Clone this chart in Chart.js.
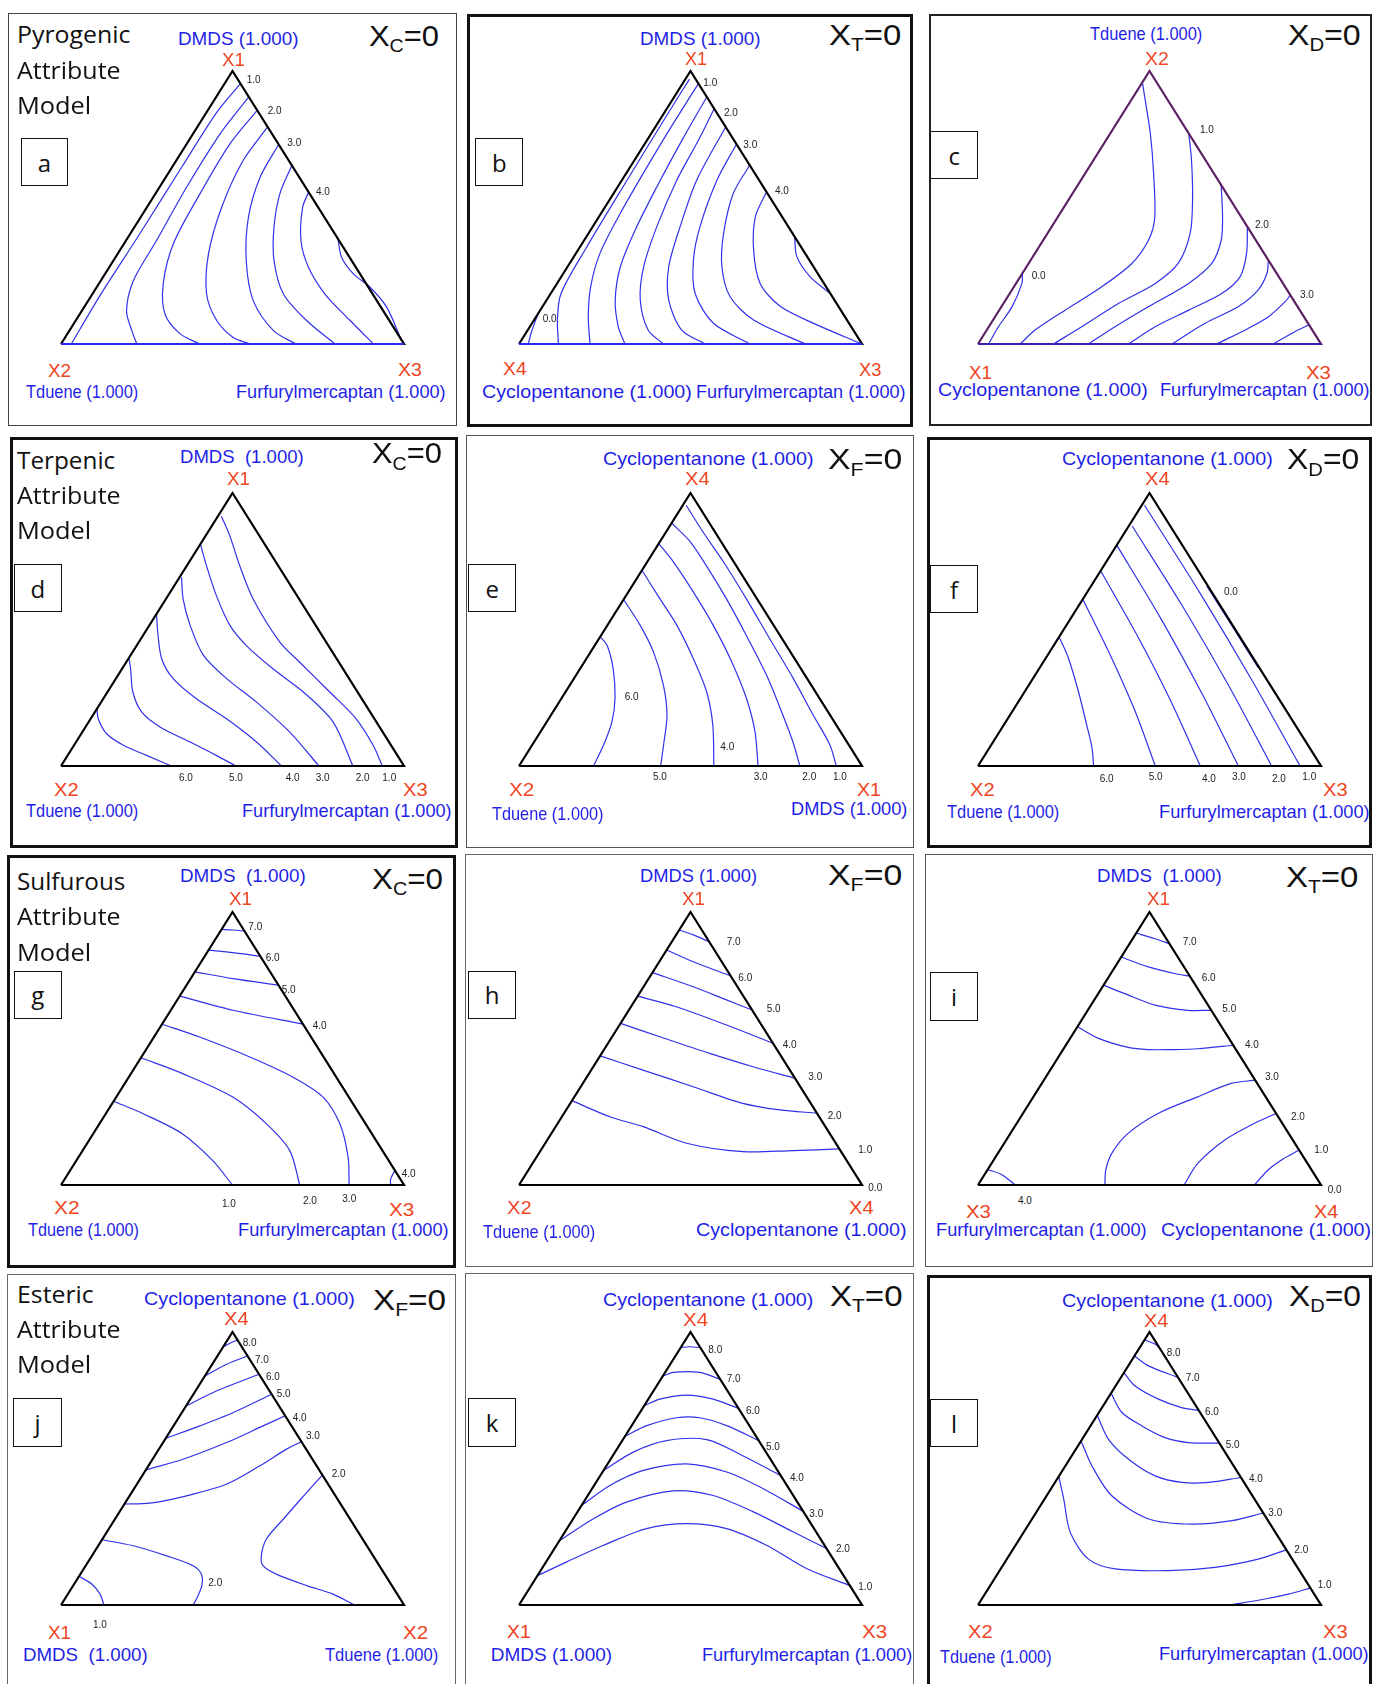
<!DOCTYPE html>
<html>
<head>
<meta charset="utf-8">
<script src="https://cdn.jsdelivr.net/npm/chart.js@4.4.0/dist/chart.umd.min.js"></script>
<style>
  body { margin: 0; background: #fff; }
  #page { position: relative; width: 1374px; height: 1684px; overflow: hidden; background: #fff; }
  .frame { position: absolute; box-sizing: border-box; }
  .box { position: absolute; box-sizing: border-box; border: 1.7px solid #111; display: flex;
         align-items: center; justify-content: center; font: 24px "Open Sans", sans-serif; color: #111; background: #fff; }
  .t { position: absolute; white-space: pre; line-height: 1; transform-origin: 0 0; }
  canvas { position: absolute; }
</style>
</head>
<body>
<div id="page"></div>
<script>
// contour lines, each point = [fraction of apex component, fraction of right-hand component]
const aLevels = [1.0, 1.5, 2.0, 2.5, 3.0, 3.5, 4.0, 4.5];
const aLines = [
  [[.953,.046],[.85,.03],[.65,.028],[.4,.028],[.18,.025],[0,.03]],
  [[.905,.095],[.770,.079],[.575,.079],[.379,.089],[.232,.095],[.122,.130],[.049,.182],[0,.221]],
  [[.856,.144],[.734,.126],[.550,.130],[.367,.144],[.220,.188],[.110,.248],[.037,.329],[0,.405]],
  [[.795,.205],[.672,.195],[.501,.218],[.330,.265],[.183,.333],[.086,.411],[.024,.490],[0,.551]],
  [[.731,.269],[.611,.275],[.465,.314],[.306,.387],[.159,.481],[.049,.595],[0,.685]],
  [[.654,.346],[.550,.363],[.428,.407],[.306,.468],[.183,.557],[.086,.673],[0,.799]],
  [[.556,.444],[.501,.454],[.379,.510],[.281,.581],[.183,.678],[.086,.800],[0,.911]],
  [[.385,.615],[.318,.659],[.257,.724],[.208,.797],[.135,.882],[.012,.987]]
];
const bLevels = [0.0, 0.5, 1.0, 1.5, 2.0, 2.5, 3.0, 3.5, 4.0, 4.5];
const bLines = [
  [[.112,0],[.045,.014],[0,.027]],
  [[.97,.012],[.85,.012],[.6,.015],[.35,.02],[.185,.03],[.088,.068],[0,.115]],
  [[.954,.046],[.807,.046],[.649,.049],[.478,.056],[.332,.070],[.210,.104],[.100,.152],[0,.207]],
  [[.905,.095],[.746,.102],[.576,.114],[.417,.130],[.283,.154],[.161,.200],[.063,.258],[0,.309]],
  [[.862,.138],[.746,.150],[.600,.160],[.429,.187],[.283,.222],[.161,.273],[.051,.351],[0,.421]],
  [[.795,.205],[.600,.218],[.429,.255],[.283,.295],[.161,.356],[.051,.449],[0,.543]],
  [[.732,.268],[.600,.277],[.429,.313],[.307,.355],[.185,.421],[.076,.529],[0,.674]],
  [[.655,.345],[.551,.349],[.405,.394],[.283,.450],[.173,.529],[.088,.640],[0,.835]],
  [[.557,.443],[.466,.456],[.344,.512],[.222,.592],[.137,.694],[.070,.834],[.002,.995]],
  [[.393,.607],[.320,.650],[.246,.726],[.185,.815]]
];
const cLevels = [0.0, 0.5, 1.0, 1.5, 2.0, 2.5, 3.0, 3.5];
const cLines = [
  [[.259,0],[.222,.017],[.137,.031],[.063,.028],[0,.031]],
  [[.954,.003],[.893,.041],[.771,.117],[.624,.200],[.460,.285],[.380,.307],[.295,.301],[.210,.256],[.124,.192],[.051,.141],[0,.123]],
  [[.771,.229],[.673,.286],[.527,.362],[.405,.416],[.295,.436],[.222,.406],[.149,.336],[.063,.271],[0,.220]],
  [[.582,.418],[.466,.480],[.380,.519],[.295,.534],[.222,.503],[.137,.429],[.063,.368],[0,.322]],
  [[.429,.571],[.332,.617],[.246,.641],[.185,.618],[.124,.552],[.063,.485],[0,.439]],
  [[.307,.693],[.259,.713],[.198,.718],[.137,.691],[.076,.624],[0,.565]],
  [[.179,.821],[.155,.818],[.100,.797],[.057,.759],[0,.696]],
  [[.070,.930],[.045,.901],[0,.861]]
];
const dLevels = [6.0, 5.0, 4.0, 3.0, 2.0, 1.0];
const dLines = [
  [[.21,0],[.173,.022],[.118,.074],[.076,.144],[.039,.230],[0,.322]],
  [[.396,0],[.356,.025],[.271,.074],[.198,.136],[.143,.217],[.088,.332],[.039,.433],[0,.510]],
  [[.557,0],[.490,.037],[.393,.097],[.320,.167],[.246,.272],[.173,.396],[.088,.526],[0,.643]],
  [[.691,.006],[.612,.050],[.515,.119],[.405,.213],[.320,.323],[.234,.453],[.124,.605],[0,.752]],
  [[.813,0],[.734,.057],[.624,.141],[.515,.235],[.441,.320],[.356,.440],[.271,.571],[.161,.713],[0,.851]],
  [[.915,.01],[.844,.070],[.734,.154],[.612,.254],[.454,.411],[.380,.506],[.271,.648],[.173,.774],[.076,.872],[0,.937]]
];
const eLevels = [6.0, 5.0, 4.0, 3.0, 2.0, 1.0];
const eLines = [
  [[.473,0],[.443,.035],[.357,.096],[.248,.156],[.162,.190],[.077,.208],[0,.217]],
  [[.610,0],[.516,.095],[.418,.183],[.296,.273],[.187,.338],[.077,.383],[0,.413]],
  [[.717,0],[.613,.104],[.516,.202],[.394,.311],[.272,.411],[.150,.490],[0,.568]],
  [[.815,0],[.748,.076],[.638,.189],[.516,.308],[.382,.429],[.248,.539],[.126,.625],[0,.697]],
  [[.890,0],[.821,.089],[.723,.190],[.613,.298],[.479,.423],[.333,.555],[.199,.666],[.089,.754],[0,.819]],
  [[.955,.01],[.857,.108],[.748,.222],[.613,.356],[.467,.497],[.321,.639],[.187,.764],[.077,.868],[0,.925]]
];
const fLevels = [6.0, 5.0, 4.0, 3.0, 2.0, 1.0, 0.0];
const fLines = [
  [[.473,0],[.394,.067],[.272,.157],[.150,.242],[.065,.300],[0,.337]],
  [[.611,0],[.407,.182],[.204,.355],[0,.517]],
  [[.715,0],[.476,.227],[.238,.443],[0,.648]],
  [[.809,0],[.539,.264],[.270,.516],[0,.759]],
  [[.879,.010],[.586,.303],[.293,.585],[0,.856]],
  [[.955,.008],[.637,.327],[.318,.638],[0,.939]],
  [[.66,.337],[.5,.497],[.36,.637]]
];
const gLevels = [7.0, 6.0, 5.0, 4.0, 3.0, 2.0, 1.0, 4.0];
const gLines = [
  [[.936,0],[.934,.034],[.930,.070]],
  [[.860,0],[.851,.076],[.838,.162]],
  [[.781,0],[.756,.123],[.732,.268]],
  [[.692,0],[.640,.181],[.589,.411]],
  [[.589,0],[.542,.133],[.469,.316],[.395,.479],[.322,.603],[.224,.701],[.102,.786],[0,.840]],
  [[.466,0],[.408,.151],[.322,.340],[.224,.487],[.126,.604],[0,.696]],
  [[.307,0],[.261,.109],[.187,.261],[.089,.398],[0,.500]],
  [[.053,.947],[.022,.950],[0,.961]]
];
const hLevels = [7.0, 6.0, 5.0, 4.0, 3.0, 2.0, 1.0];
const hLines = [
  [[.934,0],[.916,.050],[.891,.109]],
  [[.861,0],[.818,.099],[.766,.234]],
  [[.778,0],[.726,.145],[.678,.266],[.641,.359]],
  [[.692,0],[.653,.132],[.586,.312],[.519,.481]],
  [[.592,0],[.543,.139],[.482,.315],[.433,.466],[.391,.609]],
  [[.473,0],[.421,.151],[.360,.328],[.299,.503],[.275,.623],[.263,.737]],
  [[.309,0],[.250,.140],[.214,.255],[.153,.412],[.122,.592],[.126,.736],[.132,.868]]
];
const iLevels = [7.0, 6.0, 5.0, 4.0, 3.0, 2.0, 1.0, 4.0];
const iLines = [
  [[.923,0],[.902,.065],[.884,.116]],
  [[.835,0],[.799,.097],[.772,.197],[.765,.235]],
  [[.732,0],[.701,.077],[.659,.187],[.640,.292],[.640,.360]],
  [[.579,.002],[.537,.083],[.504,.186],[.496,.248],[.496,.316],[.499,.392],[.512,.488]],
  [[.384,.616],[.372,.552],[.323,.479],[.262,.394],[.189,.343],[.116,.332],[.055,.345],[0,.370]],
  [[.262,.738],[.226,.693],[.165,.637],[.079,.601],[0,.601]],
  [[.128,.872],[.091,.838],[.055,.818],[0,.806]],
  [[.057,0],[.037,.052],[0,.109]]
];
const jLevels = [8.0, 7.0, 6.0, 5.0, 4.0, 3.0, 2.0, 2.0, 1.0];
const jLines = [
  [[.946,0],[.959,.013],[.971,.029]],
  [[.839,0],[.882,.042],[.912,.088]],
  [[.729,0],[.784,.061],[.845,.155]],
  [[.610,0],[.656,.077],[.705,.150],[.772,.228]],
  [[.495,0],[.534,.089],[.595,.185],[.656,.261],[.693,.307]],
  [[.370,0],[.373,.072],[.400,.166],[.443,.262],[.510,.325],[.571,.372],[.598,.402]],
  [[.476,.524],[.412,.510],[.315,.491],[.241,.478],[.180,.494],[.144,.517],[.113,.571],[.071,.681],[.040,.773],[0,.856]],
  [[.239,0],[.217,.102],[.180,.218],[.144,.313],[.113,.353],[.071,.375],[.022,.384],[0,.385]],
  [[.105,0],[.077,.051],[.040,.094],[0,.125]]
];
const kLevels = [8.0, 7.0, 6.0, 5.0, 4.0, 3.0, 2.0, 1.0];
const kLines = [
  [[.943,0],[.946,.025],[.943,.057]],
  [[.839,0],[.852,.024],[.852,.101],[.827,.173]],
  [[.730,0],[.754,.034],[.769,.104],[.754,.189],[.720,.280]],
  [[.618,0],[.657,.044],[.686,.116],[.686,.184],[.657,.277],[.602,.398]],
  [[.493,0],[.560,.053],[.602,.129],[.606,.244],[.547,.379],[.474,.526]],
  [[.365,0],[.438,.046],[.493,.116],[.517,.229],[.487,.362],[.426,.499],[.343,.657]],
  [[.235,0],[.316,.059],[.377,.125],[.418,.241],[.401,.365],[.341,.513],[.268,.665],[.207,.793]],
  [[.107,0],[.158,.060],[.219,.137],[.280,.232],[.298,.339],[.280,.465],[.219,.612],[.134,.771],[.071,.929]]
];
const lLevels = [8.0, 7.0, 6.0, 5.0, 4.0, 3.0, 2.0, 1.0];
const lLines = [
  [[.971,0],[.955,.040],[.939,.061]],
  [[.912,0],[.876,.059],[.833,.167]],
  [[.851,0],[.802,.057],[.754,.149],[.723,.232],[.713,.287]],
  [[.776,0],[.705,.067],[.656,.150],[.613,.239],[.595,.316],[.593,.407]],
  [[.695,0],[.607,.077],[.534,.172],[.473,.280],[.449,.370],[.449,.448],[.467,.533]],
  [[.601,0],[.510,.077],[.400,.190],[.315,.340],[.296,.475],[.309,.586],[.337,.663]],
  [[.471,0],[.388,.056],[.266,.136],[.168,.238],[.132,.334],[.126,.492],[.138,.622],[.168,.733],[.202,.798]],
  [[0,.735],[.022,.826],[.040,.885],[.062,.938]]
];

// layout
const TW = 343, TH = 273, M = 8;
const colX = [61, 519, 978];
const rowBase = [344, 766, 1185, 1605];
const SANS = '"Liberation Sans", Arial, sans-serif';
const KIND = {
  name:  { family: SANS, size: 19, color: '#1f1fe6', asc: 0.8465 },
  vtx:   { family: SANS, size: 18.5, color: '#ee4422', asc: 0.8465 },
  lvl:   { family: SANS, size: 10, color: '#222', asc: 0.8465 },
  big:   { family: SANS, size: 30, color: '#111', asc: 0.8465 },
  title: { family: '"Open Sans", sans-serif', size: 24, color: '#111', asc: 0.888 }
};

const panels = [
  { col: 0, row: 0, levels: aLevels, lines: aLines, edge: '#000', base: '#2a2af0',
    frame: [8, 13, 457, 426, 1.5, '#444'], letter: ['a', 20.7, 138.3, 68.3, 186], sub: ['C', 369.3, 439.3, 44],
    title: [['Pyrogenic', 16.7, 130.7, 38.3], ['Attribute', 16.7, 120.7, 74], ['Model', 16.7, 90.7, 109]],
    texts: [['DMDS (1.000)', 177.7, 297.7, 44, 'name'], ['X1', 221.7, 245, 65, 'vtx'], ['X2', 48.3, 71.7, 376, 'vtx'],
            ['Tduene (1.000)', 26, 138.3, 397.3, 'name'], ['X3', 398.3, 422.7, 375, 'vtx'],
            ['Furfurylmercaptan (1.000)', 235.7, 445.7, 397.3, 'name']],
    tags: [['1.0', 246.7, 79.3, 'l'], ['2.0', 267.7, 110, 'l'], ['3.0', 287.3, 141.7, 'l'], ['4.0', 316, 190.7, 'l']] },
  { col: 1, row: 0, levels: bLevels, lines: bLines, edge: '#000', base: '#2a2af0',
    frame: [467, 14, 913, 427, 3, '#111'], letter: ['b', 475.3, 138.3, 523.3, 186], sub: ['T', 829.3, 901.7, 43.3],
    texts: [['DMDS (1.000)', 640, 760, 44, 'name'], ['X1', 685, 707.3, 63.3, 'vtx'], ['X4', 502.7, 526.7, 374, 'vtx'],
            ['Cyclopentanone (1.000)', 481.7, 691.7, 396.7, 'name'], ['X3', 859.3, 882, 375, 'vtx'],
            ['Furfurylmercaptan (1.000)', 696, 906, 396.7, 'name']],
    tags: [['1.0', 703.3, 81.7, 'l'], ['2.0', 724, 112.3, 'l'], ['3.0', 743.3, 144, 'l'], ['4.0', 775, 190, 'l'], ['0.0', 542.7, 318.3, 'l']] },
  { col: 2, row: 0, levels: cLevels, lines: cLines, edge: '#5b1f63', base: '#3a22b8',
    frame: [929, 14, 1372, 426, 2.5, '#222'], letter: ['c', 930, 131, 978.3, 179], sub: ['D', 1288.3, 1361, 43.3],
    texts: [['Tduene (1.000)', 1090, 1202.3, 39, 'name'], ['X2', 1145, 1169, 64, 'vtx'], ['X1', 969, 992.3, 377.3, 'vtx'],
            ['Cyclopentanone (1.000)', 937.7, 1147.7, 395, 'name'], ['X3', 1305.7, 1331, 377.3, 'vtx'],
            ['Furfurylmercaptan (1.000)', 1160, 1370, 395, 'name']],
    tags: [['1.0', 1200, 129, 'l'], ['2.0', 1255, 224, 'l'], ['3.0', 1300, 294, 'l'], ['0.0', 1031.7, 275, 'l']] },
  { col: 0, row: 1, levels: dLevels, lines: dLines, edge: '#000',
    frame: [10, 437, 458, 848, 3, '#111'], letter: ['d', 14, 564.3, 61.7, 612.3], sub: ['C', 371.7, 441.7, 461.7],
    title: [['Terpenic', 16.7, 115, 464.3], ['Attribute', 16.7, 120.7, 499], ['Model', 16.7, 90.7, 534.3]],
    texts: [['DMDS  (1.000)', 180, 304, 462.3, 'name'], ['X1', 226.7, 250, 483.3, 'vtx'], ['X2', 54, 79, 794.3, 'vtx'],
            ['Tduene (1.000)', 26, 138.3, 815.7, 'name'], ['X3', 403.3, 428.3, 794.3, 'vtx'],
            ['Furfurylmercaptan (1.000)', 241.7, 451.7, 815.7, 'name']],
    tags: [['6.0', 186, 776.7, 'c'], ['5.0', 236, 776.7, 'c'], ['4.0', 292.7, 776.7, 'c'], ['3.0', 322.7, 776.7, 'c'],
           ['2.0', 362.7, 776.7, 'c'], ['1.0', 389.3, 776.7, 'c']] },
  { col: 1, row: 1, levels: eLevels, lines: eLines, edge: '#000',
    frame: [466, 435, 914, 848, 1.5, '#555'], letter: ['e', 468.3, 564.3, 516, 612.3], sub: ['F', 828.3, 902.7, 467.7],
    texts: [['Cyclopentanone (1.000)', 603.3, 814, 464, 'name'], ['X4', 685, 710, 483.3, 'vtx'], ['X2', 509.3, 535, 794.3, 'vtx'],
            ['Tduene (1.000)', 491.7, 603.3, 819, 'name'], ['X1', 857.3, 881.7, 794.3, 'vtx'],
            ['DMDS (1.000)', 790.7, 906.7, 814.3, 'name']],
    tags: [['6.0', 631.7, 695.7, 'c'], ['4.0', 727.3, 745.7, 'c'], ['5.0', 660, 775.7, 'c'], ['3.0', 760.7, 775.7, 'c'],
           ['2.0', 809.3, 775.7, 'c'], ['1.0', 840, 775.7, 'c']] },
  { col: 2, row: 1, levels: fLevels, lines: fLines, edge: '#000',
    frame: [927, 437, 1372, 848, 3, '#111'], letter: ['f', 930, 565, 978.3, 613.3], sub: ['D', 1286.7, 1359, 467.7],
    texts: [['Cyclopentanone (1.000)', 1062.3, 1273.3, 464, 'name'], ['X4', 1145, 1170, 483.3, 'vtx'], ['X2', 970, 995, 794.3, 'vtx'],
            ['Tduene (1.000)', 946.7, 1059, 816.7, 'name'], ['X3', 1323.3, 1348.3, 794.3, 'vtx'],
            ['Furfurylmercaptan (1.000)', 1159, 1370, 816.7, 'name']],
    tags: [['0.0', 1231, 591, 'c'], ['6.0', 1106.7, 777.7, 'c'], ['5.0', 1155.7, 776, 'c'], ['4.0', 1209, 777.7, 'c'],
           ['3.0', 1239, 776, 'c'], ['2.0', 1279, 777.7, 'c'], ['1.0', 1309.3, 776, 'c']] },
  { col: 0, row: 2, levels: gLevels, lines: gLines, edge: '#000',
    frame: [7, 855, 456, 1268, 3, '#111'], letter: ['g', 14, 970.7, 61.7, 1019], sub: ['C', 371.7, 442.7, 887.3],
    title: [['Sulfurous', 16.7, 125, 885], ['Attribute', 16.7, 120.7, 920.7], ['Model', 16.7, 90.7, 956]],
    texts: [['DMDS  (1.000)', 180, 306, 880.7, 'name'], ['X1', 229.3, 252.7, 903.3, 'vtx'], ['X2', 54, 80, 1212.7, 'vtx'],
            ['Tduene (1.000)', 28.3, 139.3, 1235, 'name'], ['X3', 389.3, 415, 1215, 'vtx'],
            ['Furfurylmercaptan (1.000)', 238.3, 449.3, 1235, 'name']],
    tags: [['7.0', 248.3, 926, 'l'], ['6.0', 265.7, 957.3, 'l'], ['5.0', 281.7, 989.3, 'l'], ['4.0', 312.7, 1025, 'l'],
           ['4.0', 401.7, 1173.3, 'l'], ['1.0', 229, 1202.7, 'c'], ['2.0', 310, 1200, 'c'], ['3.0', 349.3, 1197.7, 'c']] },
  { col: 1, row: 2, levels: hLevels, lines: hLines, edge: '#000',
    frame: [465, 854, 914, 1267, 1.5, '#666'], letter: ['h', 468.3, 970.7, 516, 1019], sub: ['F', 828.3, 902.7, 883.3],
    texts: [['DMDS (1.000)', 640, 756.7, 880.7, 'name'], ['X1', 681.7, 705, 903.3, 'vtx'], ['X2', 506.7, 531.7, 1212.7, 'vtx'],
            ['Tduene (1.000)', 482.7, 595, 1236.7, 'name'], ['X4', 849.3, 874.3, 1212.7, 'vtx'],
            ['Cyclopentanone (1.000)', 696, 906.7, 1235, 'name']],
    tags: [['7.0', 726.7, 941, 'l'], ['6.0', 738.3, 977.3, 'l'], ['5.0', 766.7, 1008.3, 'l'], ['4.0', 782.7, 1044.3, 'l'],
           ['3.0', 808.3, 1076, 'l'], ['2.0', 827.7, 1115, 'l'], ['1.0', 858.3, 1149, 'l'], ['0.0', 868.3, 1186.7, 'l']] },
  { col: 2, row: 2, levels: iLevels, lines: iLines, edge: '#000',
    frame: [925, 854, 1373, 1267, 1.5, '#556'], letter: ['i', 930, 971.7, 978.3, 1020.7], sub: ['T', 1285.7, 1358.3, 885],
    texts: [['DMDS  (1.000)', 1096.7, 1221.7, 880.7, 'name'], ['X1', 1146.7, 1170, 903.3, 'vtx'], ['X3', 965.7, 991, 1216.7, 'vtx'],
            ['Furfurylmercaptan (1.000)', 935.7, 1146.7, 1235, 'name'], ['X4', 1314.3, 1339, 1216.7, 'vtx'],
            ['Cyclopentanone (1.000)', 1160.7, 1371, 1235, 'name']],
    tags: [['7.0', 1182.7, 941, 'l'], ['6.0', 1201.7, 977.3, 'l'], ['5.0', 1222.3, 1008.3, 'l'], ['4.0', 1245, 1044.3, 'l'],
           ['3.0', 1265, 1076, 'l'], ['2.0', 1291, 1115.7, 'l'], ['1.0', 1314.3, 1149, 'l'], ['0.0', 1327.7, 1189, 'l'],
           ['4.0', 1025, 1200, 'c']] },
  { col: 0, row: 3, levels: jLevels, lines: jLines, edge: '#000',
    frame: [7, 1274, 456, 1700, 1.5, '#666'], letter: ['j', 13.3, 1397.7, 61.7, 1446.7], sub: ['F', 372.7, 446, 1308.3],
    title: [['Esteric', 16.7, 93.3, 1298.3], ['Attribute', 16.7, 120.7, 1333.3], ['Model', 16.7, 90.7, 1368.3]],
    texts: [['Cyclopentanone (1.000)', 144, 355, 1304, 'name'], ['X4', 224, 249, 1323.3, 'vtx'], ['X1', 48.3, 71.7, 1637.7, 'vtx'],
            ['DMDS  (1.000)', 23.3, 148.3, 1660, 'name'], ['X2', 402.7, 428.3, 1637.7, 'vtx'],
            ['Tduene (1.000)', 325, 438.3, 1660, 'name']],
    tags: [['8.0', 242.7, 1341.7, 'l'], ['7.0', 255, 1359, 'l'], ['6.0', 266, 1375.7, 'l'], ['5.0', 276.7, 1393.3, 'l'],
           ['4.0', 292.7, 1416.7, 'l'], ['3.0', 306, 1435, 'l'], ['2.0', 331.7, 1472.7, 'l'], ['2.0', 208.3, 1582.3, 'l'],
           ['1.0', 100, 1624.3, 'c']] },
  { col: 1, row: 3, levels: kLevels, lines: kLines, edge: '#000',
    frame: [465, 1273, 914, 1700, 1.5, '#666'], letter: ['k', 468.3, 1397.7, 516, 1446.7], sub: ['T', 830, 902.7, 1304.3],
    texts: [['Cyclopentanone (1.000)', 602.7, 813.3, 1305, 'name'], ['X4', 682.7, 708.3, 1325, 'vtx'], ['X1', 506.7, 530.7, 1636.7, 'vtx'],
            ['DMDS (1.000)', 490.7, 611.7, 1660, 'name'], ['X3', 861.7, 887.3, 1636.7, 'vtx'],
            ['Furfurylmercaptan (1.000)', 701.7, 912.3, 1660, 'name']],
    tags: [['8.0', 708.3, 1349.3, 'l'], ['7.0', 726.7, 1378.3, 'l'], ['6.0', 746, 1410, 'l'], ['5.0', 766, 1446, 'l'],
           ['4.0', 790, 1476.7, 'l'], ['3.0', 809.3, 1513.3, 'l'], ['2.0', 836, 1547.7, 'l'], ['1.0', 858.3, 1586, 'l']] },
  { col: 2, row: 3, levels: lLevels, lines: lLines, edge: '#000',
    frame: [927, 1275, 1372, 1700, 3, '#111'], letter: ['l', 930, 1399, 978.3, 1447.3], sub: ['D', 1289, 1361, 1304.3],
    texts: [['Cyclopentanone (1.000)', 1062.3, 1273.3, 1305.7, 'name'], ['X4', 1144.3, 1169, 1325.7, 'vtx'], ['X2', 968.3, 993.3, 1636.7, 'vtx'],
            ['Tduene (1.000)', 940, 1051.7, 1661.7, 'name'], ['X3', 1323.3, 1348.3, 1636.7, 'vtx'],
            ['Furfurylmercaptan (1.000)', 1159, 1369, 1659, 'name']],
    tags: [['8.0', 1166.7, 1351.7, 'l'], ['7.0', 1185.7, 1376.7, 'l'], ['6.0', 1205, 1411, 'l'], ['5.0', 1225.7, 1444.3, 'l'],
           ['4.0', 1249, 1477.7, 'l'], ['3.0', 1268.3, 1511.7, 'l'], ['2.0', 1294.3, 1549, 'l'], ['1.0', 1317.7, 1584.3, 'l']] }
];

const page = document.getElementById('page');

function addText(html, x0, x1, baseline, kind, align) {
  const k = KIND[kind];
  const el = document.createElement('div');
  el.className = 't';
  el.innerHTML = html;
  el.style.font = k.size + 'px ' + k.family;
  el.style.color = k.color;
  page.appendChild(el);
  const w = el.offsetWidth;
  let left = x0;
  if (x1 != null && w > 0) el.style.transform = 'scaleX(' + ((x1 - x0) / w) + ')';
  else if (align === 'c') left = x0 - w / 2;
  el.style.left = left + 'px';
  el.style.top = (baseline - k.asc * k.size) + 'px';
}

// ternary composition -> chart coordinates
const toXY = p => ({ x: p[1] + p[0] / 2, y: p[0] });

function lineSet(label, pts, color, width, tension) {
  return { label: label, data: pts.map(toXY), showLine: true, pointRadius: 0, borderColor: color,
           borderWidth: width, tension: tension, fill: false, borderJoinStyle: 'miter' };
}

panels.forEach(p => {
  const f = p.frame;
  const fr = document.createElement('div');
  fr.className = 'frame';
  Object.assign(fr.style, { left: f[0] + 'px', top: f[1] + 'px', width: (f[2] - f[0]) + 'px',
                            height: (f[3] - f[1]) + 'px', border: f[4] + 'px solid ' + f[5] });
  page.appendChild(fr);

  const L = colX[p.col], B = rowBase[p.row];
  const cv = document.createElement('canvas');
  cv.width = TW + 2 * M; cv.height = TH + 2 * M;
  cv.style.left = (L - M) + 'px'; cv.style.top = (B - TH - M) + 'px';
  page.appendChild(cv);

  const datasets = [];
  if (p.base) datasets.push(lineSet('base', [[0, 0], [0, 1]], p.base, 1.8, 0));
  datasets.push(lineSet('edges', [[0, 0], [0, 1], [1, 0], [0, 0]], p.edge, 2.2, 0));
  p.lines.forEach((ln, i) => datasets.push(lineSet('level ' + p.levels[i], ln, 'rgba(38,38,232,0.95)', 1.2, 0.3)));

  new Chart(cv, {
    type: 'scatter',
    data: { datasets: datasets },
    options: {
      responsive: false, animation: false, events: [],
      layout: { padding: 0 },
      plugins: { legend: { display: false }, tooltip: { enabled: false } },
      scales: {
        x: { type: 'linear', display: false, min: -M / TW, max: 1 + M / TW },
        y: { type: 'linear', display: false, min: -M / TH, max: 1 + M / TH }
      }
    }
  });

  const lt = p.letter;
  const bx = document.createElement('div');
  bx.className = 'box';
  Object.assign(bx.style, { left: lt[1] + 'px', top: lt[2] + 'px', width: (lt[3] - lt[1]) + 'px', height: (lt[4] - lt[2]) + 'px' });
  bx.textContent = lt[0];
  page.appendChild(bx);

  (p.title || []).forEach(t => addText(t[0], t[1], t[2], t[3], 'title'));
  p.texts.forEach(t => addText(t[0], t[1], t[2], t[3], t[4]));
  p.tags.forEach(t => addText(t[0], t[1], null, t[2] + 3.6, 'lvl', t[3]));
  const s = p.sub;
  addText('X<span style="font-size:19px;position:relative;top:6.5px">' + s[0] + '</span>=0', s[1], s[2], s[3], 'big');
});
</script>
</body>
</html>
